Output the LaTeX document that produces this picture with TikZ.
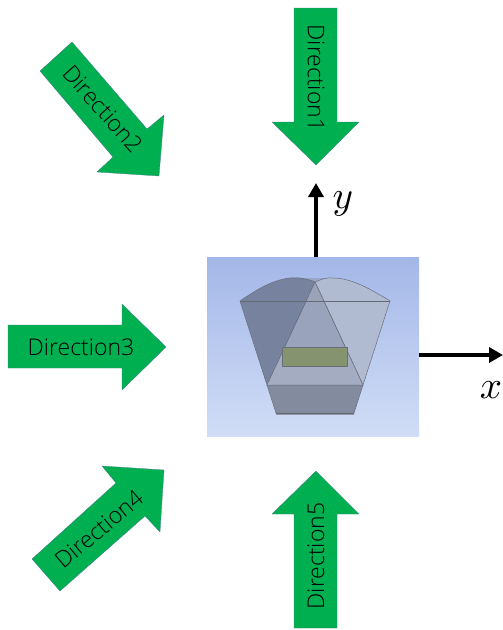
\documentclass[tikz,border=0pt]{standalone}
\usepackage{fontspec}
\usetikzlibrary{arrows.meta}
\setmainfont{Open Sans Light}
\definecolor{dirgreen}{RGB}{0,176,80}
\definecolor{diredge}{RGB}{70,120,140}
\definecolor{edgegrey}{RGB}{105,110,125}
\definecolor{edgedark}{RGB}{100,105,118}
\definecolor{paneltop}{RGB}{163,183,232}
\definecolor{panelbot}{RGB}{209,221,246}
\definecolor{midface}{RGB}{164,172,194}
\definecolor{leftface}{RGB}{119,131,158}
\definecolor{rightface}{RGB}{176,186,208}
\definecolor{upperface}{RGB}{153,163,187}
\definecolor{capface}{RGB}{155,163,185}
\definecolor{lowerface}{RGB}{131,139,158}
\definecolor{sliver}{RGB}{142,150,170}
\definecolor{olivebox}{RGB}{133,147,110}
\definecolor{topstrip}{RGB}{150,165,200}
\begin{document}
\begin{tikzpicture}[x=1pt,y=-1pt,
  dirarrow/.style={fill=dirgreen,draw=diredge,line width=0.3pt,line join=miter},
  dirlabel/.style={font=\fontsize{23}{25}\selectfont,text=black,inner sep=0pt},
  face/.style={draw=edgegrey,line width=0.5pt},
  axis/.style={draw=black,line width=4.4pt,-{Triangle[length=14pt,width=15pt]}},
  axislabel/.style={scale=3.9,inner sep=0pt}]
\useasboundingbox (0,0) rectangle (503,630);
% panel
\node[name=panel,anchor=north west,minimum width=212pt,minimum height=179pt,inner sep=0pt,draw=none,
  top color=paneltop,bottom color=panelbot] at (207,257) {};
\coordinate (yend) at (316,183);
\coordinate (xend) at (503,355);
\coordinate (ystart) at (316,257);
\coordinate (xstart) at (419,355);
\draw[axis] (ystart) -- (yend);
\draw[axis] (xstart) -- (xend);
\node[axislabel] (ylab) at (343,204) {$y$};
\node[axislabel] (xlab) at (491,390) {$x$};
% solid
\fill[midface] (267,385) -- (363,385) -- (315,282) -- cycle;
\fill[topstrip] (290,278) -- (333,278) -- (315,282) -- cycle;
\filldraw[face,fill=leftface] (240,301) .. controls (256,290) and (272,280) .. (290,278) .. controls (299,277) and (308,279) .. (315,282) -- (267,385) -- cycle;
\filldraw[face,fill=rightface] (390,301) .. controls (372,290) and (352,278) .. (333,278) .. controls (326,277) and (320,280) .. (315,282) -- (363,385) -- cycle;
\fill[upperface] (307,301) -- (323,301) -- (363,385) -- (267,385) -- cycle;
\fill[capface] (306,301) -- (324,301) -- (315,282) -- cycle;
\fill[midface] (285,347) -- (345,347) -- (363,385) -- (267,385) -- cycle;
\draw[face] (315,282) -- (267,385);
\draw[face] (315,282) -- (363,385);
\draw[draw=edgedark,line width=0.7pt] (240,301) -- (390,301);
\filldraw[face,fill=lowerface] (267,385) -- (363,385) -- (354,413) -- (276,413) -- cycle;
\fill[sliver] (276,413) rectangle (354,415);
\draw[draw=edgedark,line width=1pt] (276,413) -- (354,413);
\filldraw[face,fill=olivebox] (282,347) rectangle (347,366);
% arrows
\filldraw[dirarrow] (294,8) -- (337,8) -- (337,122) -- (359,122) -- (316,165) -- (272,122) -- (294,122) -- cycle;
\filldraw[dirarrow] (72,42) -- (40,71) -- (113,157) -- (97,172) -- (159,176) -- (164,115) -- (147,129) -- cycle;
\filldraw[dirarrow] (8,325) -- (122,325) -- (122,304) -- (166,347) -- (122,390) -- (122,368) -- (8,368) -- cycle;
\filldraw[dirarrow] (116,483) -- (102,466) -- (164,470) -- (160,532) -- (145,516) -- (60,591) -- (32,559) -- cycle;
\filldraw[dirarrow] (294,628) -- (337,628) -- (337,514) -- (359,514) -- (316,471) -- (272,514) -- (294,514) -- cycle;
\node[dirlabel,rotate=-90] (d1) at (316,78) {Direction1};
\node[dirlabel,rotate=-48] (d2) at (103,109) {Direction2};
\node[dirlabel] (d3) at (81,347) {Direction3};
\node[dirlabel,rotate=40] (d4) at (99,529) {Direction4};
\node[dirlabel,rotate=90] (d5) at (316,556) {Direction5};
\end{tikzpicture}
\end{document}
